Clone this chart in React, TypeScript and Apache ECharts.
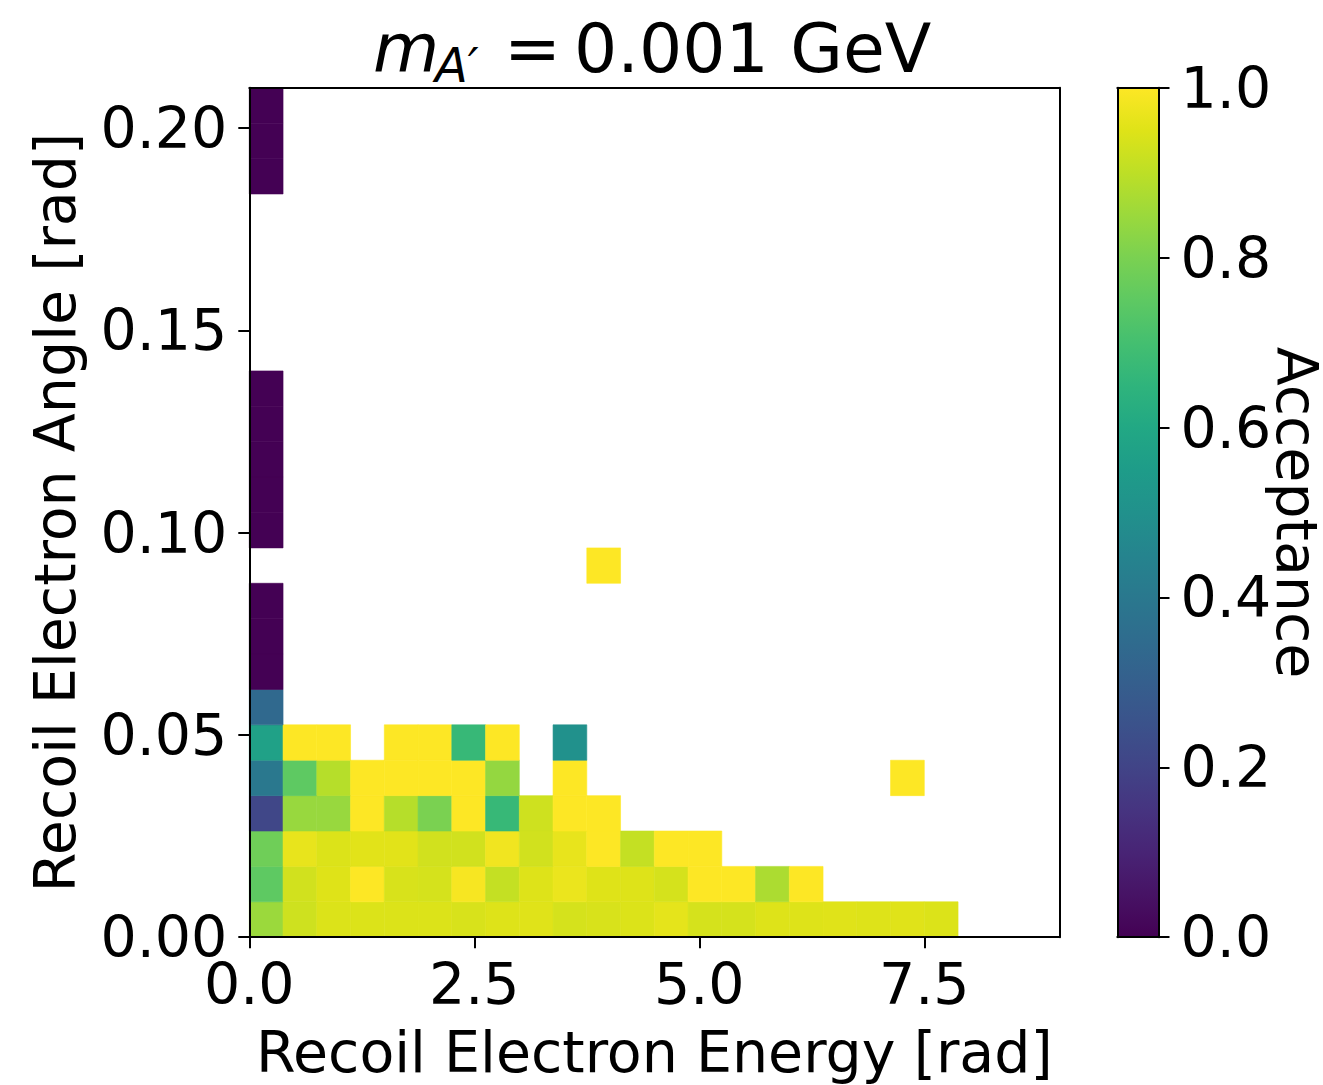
import React, { useEffect, useRef } from "react";
import * as echarts from "echarts";

// ---- data ----
const X_BIN = 0.375; // energy bin width (24 bins over 0..9)
const Y_BIN = 0.00875; // angle bin width (24 bins over 0..0.21)
const X_MAX = 9;
const Y_MAX = 0.21;
const X_TICKS = [0, 2.5, 5, 7.5];
const Y_TICKS = [0, 0.05, 0.1, 0.15, 0.2];
const CB_TICKS = [0, 0.2, 0.4, 0.6, 0.8, 1.0];

const VIRIDIS = [
  "#440154", "#471365", "#482475", "#463480", "#414487", "#3b528b", "#355f8d",
  "#2f6c8e", "#2a788e", "#25848e", "#21918c", "#1e9c89", "#22a884", "#2fb47c",
  "#44bf70", "#5ec962", "#7ad151", "#9bd93c", "#bddf26", "#dfe318", "#fde725",
];

const _ = null;
// acceptance per angle bin (row), listed by energy bin (column); null = empty
const row0 = [0.85, 0.925, 0.945, 0.945, 0.945, 0.945, 0.94, 0.948, 0.952, 0.935, 0.94, 0.945, 0.96, 0.935, 0.935, 0.948, 0.948, 0.952, 0.948, 0.952, 0.945];
const row1 = [0.75, 0.93, 0.95, 1.0, 0.94, 0.935, 0.99, 0.91, 0.948, 0.97, 0.95, 0.948, 0.935, 1.0, 1.0, 0.875, 1.0];
const row2 = [0.78, 0.965, 0.945, 0.955, 0.955, 0.93, 0.93, 0.98, 0.93, 0.965, 1.0, 0.91, 1.0, 1.0];
const row3 = [0.21, 0.845, 0.845, 1.0, 0.89, 0.8, 1.0, 0.67, 0.925, 1.0, 1.0];
const row4 = [0.4, 0.75, 0.89, 1.0, 1.0, 1.0, 1.0, 0.84, _, 1.0, _, _, _, _, _, _, _, _, _, 1.0];
const row5 = [0.57, 1.0, 1.0, _, 1.0, 1.0, 0.67, 1.0, _, 0.5];
const row6 = [0.34];
const row7 = [0];
const row8 = [0];
const row9 = [0];
const row10 = [_, _, _, _, _, _, _, _, _, _, 1.0];
const row11 = [0];
const row12 = [0];
const row13 = [0];
const row14 = [0];
const row15 = [0];
const row16: (number | null)[] = [];
const row17: (number | null)[] = [];
const row18: (number | null)[] = [];
const row19: (number | null)[] = [];
const row20: (number | null)[] = [];
const row21 = [0];
const row22 = [0];
const row23 = [0];
const ROWS = [row0, row1, row2, row3, row4, row5, row6, row7, row8, row9, row10, row11, row12, row13, row14, row15, row16, row17, row18, row19, row20, row21, row22, row23];

const FONT = "DejaVu Sans";

export default function App() {
  const ref = useRef<HTMLDivElement>(null);

  useEffect(() => {
    if (!ref.current) return;
    const chart = echarts.init(ref.current, null, { renderer: "svg" });

    const cells: number[][] = [];
    ROWS.forEach((row, j) =>
      row.forEach((v, i) => {
        if (v !== null && v !== undefined) cells.push([i * X_BIN, j * Y_BIN, v]);
      })
    );

    const lineStyle = { color: "#000", width: 2 };
    const labelStyle = { fontSize: 57, fontFamily: FONT, color: "#000" };
    const frameAxis = (gridIndex: number, position: string, min: number, max: number) => ({
      type: "value",
      gridIndex,
      position,
      min,
      max,
      z: 10,
      axisLine: { show: true, onZero: false, lineStyle },
      axisTick: { show: false },
      axisLabel: { show: false },
      splitLine: { show: false },
    });

    const G0 = { left: 249.3, top: 87.8, width: 810, height: 849.4 };
    const G1 = { left: 1117.3, top: 87.8, width: 41.2, height: 849.4 };

    const option: any = {
      animation: false,
      backgroundColor: "#fff",
      grid: [
        { ...G0, containLabel: false, outerBoundsMode: "none" },
        { ...G1, containLabel: false, outerBoundsMode: "none" },
      ],
      xAxis: [
        {
          type: "value",
          gridIndex: 0,
          position: "bottom",
          min: 0,
          max: X_MAX,
          z: 10,
          axisLine: { show: true, onZero: false, lineStyle },
          axisTick: { show: true, length: 11, lineStyle, customValues: X_TICKS },
          axisLabel: {
            ...labelStyle,
            margin: 18,
            customValues: X_TICKS,
            formatter: (v: number) => v.toFixed(1),
          },
          splitLine: { show: false },
          name: "Recoil Electron Energy [rad]",
          nameLocation: "middle",
          nameGap: 86,
          nameMoveOverlap: false,
          nameTextStyle: labelStyle,
        },
        frameAxis(0, "top", 0, X_MAX),
        frameAxis(1, "bottom", 0, 1),
        frameAxis(1, "top", 0, 1),
      ],
      yAxis: [
        {
          type: "value",
          gridIndex: 0,
          position: "left",
          min: 0,
          max: Y_MAX,
          z: 10,
          axisLine: { show: true, onZero: false, lineStyle },
          axisTick: { show: true, length: 11, lineStyle, customValues: Y_TICKS },
          axisLabel: {
            ...labelStyle,
            margin: 22,
            customValues: Y_TICKS,
            formatter: (v: number) => v.toFixed(2),
          },
          splitLine: { show: false },
          name: "Recoil Electron Angle [rad]",
          nameLocation: "middle",
          nameGap: 166,
          nameMoveOverlap: false,
          nameTextStyle: labelStyle,
        },
        frameAxis(0, "right", 0, Y_MAX),
        frameAxis(1, "left", 0, 1),
        {
          type: "value",
          gridIndex: 1,
          position: "right",
          min: 0,
          max: 1,
          z: 10,
          axisLine: { show: true, onZero: false, lineStyle },
          axisTick: { show: true, length: 11, lineStyle, customValues: CB_TICKS },
          axisLabel: {
            ...labelStyle,
            margin: 22,
            customValues: CB_TICKS,
            formatter: (v: number) => v.toFixed(1),
          },
          splitLine: { show: false },
          name: "Acceptance",
          nameLocation: "middle",
          nameRotate: -90,
          nameGap: 118,
          nameMoveOverlap: false,
          nameTextStyle: { ...labelStyle, lineHeight: 40 },
        },
      ],
      visualMap: {
        type: "continuous",
        show: false,
        min: 0,
        max: 1,
        dimension: 2,
        seriesIndex: 0,
        inRange: { color: VIRIDIS },
      },
      graphic: [
        {
          type: "text",
          x: 373,
          y: 48,
          style: { text: "m", font: `italic 68px "${FONT}"`, fill: "#000", align: "left", verticalAlign: "middle", textAlign: "left", textVerticalAlign: "middle" },
        },
        {
          type: "text",
          x: 435,
          y: 65,
          style: { text: "A\u2032", font: `italic 48px "${FONT}"`, fill: "#000", align: "left", verticalAlign: "middle", textAlign: "left", textVerticalAlign: "middle" },
        },
        {
          type: "text",
          x: 504,
          y: 48,
          style: { text: "=", font: `68px "${FONT}"`, fill: "#000", align: "left", verticalAlign: "middle", textAlign: "left", textVerticalAlign: "middle" },
        },
        {
          type: "text",
          x: 574,
          y: 48,
          style: { text: "0.001 GeV", font: `68px "${FONT}"`, fill: "#000", align: "left", verticalAlign: "middle", textAlign: "left", textVerticalAlign: "middle" },
        },
      ],
      series: [
        {
          type: "custom",
          xAxisIndex: 0,
          yAxisIndex: 0,
          z: 2,
          silent: true,
          data: cells,
          renderItem: (_p: any, api: any) => {
            const x0 = api.value(0);
            const y0 = api.value(1);
            const a = api.coord([x0, y0 + Y_BIN]);
            const b = api.coord([x0 + X_BIN, y0]);
            const c = api.visual("color");
            return {
              type: "rect",
              shape: { x: a[0], y: a[1], width: b[0] - a[0], height: b[1] - a[1] },
              style: { fill: c, stroke: c, lineWidth: 0.6 },
            };
          },
        },
        {
          type: "custom",
          xAxisIndex: 2,
          yAxisIndex: 3,
          z: 2,
          silent: true,
          data: [[0, 0]],
          renderItem: (_p: any, api: any) => {
            const a = api.coord([0, 1]);
            const b = api.coord([1, 0]);
            return {
              type: "rect",
              shape: { x: a[0], y: a[1], width: b[0] - a[0], height: b[1] - a[1] },
              style: {
                fill: new echarts.graphic.LinearGradient(
                  0, 1, 0, 0,
                  VIRIDIS.map((color, k) => ({ offset: k / (VIRIDIS.length - 1), color }))
                ),
              },
            };
          },
        },
      ],
    };

    chart.setOption(option);
    return () => chart.dispose();
  }, []);

  return (
    <div
      ref={ref}
      style={{ position: "fixed", left: 0, top: 0, width: 1323, height: 1085, background: "#fff" }}
    />
  );
}
